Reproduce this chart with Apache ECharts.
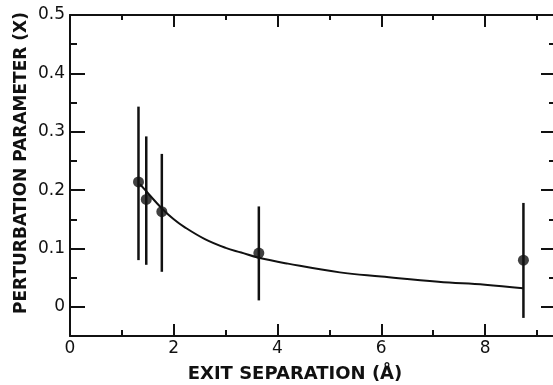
<!DOCTYPE html>
<html>
<head>
<meta charset="utf-8">
<script src="https://cdn.jsdelivr.net/npm/echarts@6/dist/echarts.min.js"></script>
<style>
  html, body { margin: 0; padding: 0; background: #fff; }
  #chart { width: 553px; height: 385px; }
</style>
</head>
<body>
<div id="chart"></div>
<script>
// measured points with error bars
const sepX = [1.32, 1.47, 1.77, 3.64, 8.74]
const paramY = [0.214, 0.184, 0.163, 0.092, 0.080]
const errLow = [0.080, 0.072, 0.060, 0.011, -0.019]
const errHigh = [0.343, 0.292, 0.262, 0.172, 0.178]

// fitted curve
const curveX = [1.35, 1.5, 1.65, 1.8, 2.0, 2.2, 2.6, 3.0, 3.3, 3.64, 4.2, 5.2, 6.0, 7.1, 8.0, 8.73]
const curveY = [0.210, 0.195, 0.180, 0.166, 0.150, 0.137, 0.116, 0.101, 0.093, 0.084, 0.074, 0.059, 0.052, 0.043, 0.038, 0.032]

const xMajor = [0, 2, 4, 6, 8]
const xMinor = [1, 3, 5, 7, 9]
const yMajor = [0, 0.1, 0.2, 0.3, 0.4, 0.5]
const yMinor = [-0.05, 0.05, 0.15, 0.25, 0.35, 0.45]

const FONT = 'DejaVu Sans'
const INK = '#111'

const chart = echarts.init(document.getElementById('chart'))

const lineStyle = { color: INK, width: 2 }

// helper for the frame axes: one with long ticks, one with short ticks
const xAx = (pos, ticks, len, showLine, labels) => ({
  type: 'value', position: pos, min: 0, max: 9.31,
  axisLine: { show: showLine, onZero: false, lineStyle },
  axisTick: { show: true, inside: true, length: len, lineStyle, customValues: ticks },
  axisLabel: labels
    ? { show: true, customValues: ticks, fontFamily: FONT, fontSize: 17, color: INK, margin: 4 }
    : { show: false },
  splitLine: { show: false },
})

const yAx = (pos, ticks, len, showLine, labels) => ({
  type: 'value', position: pos, min: -0.05, max: 0.5,
  axisLine: { show: showLine, onZero: false, lineStyle },
  axisTick: { show: true, inside: true, length: len, lineStyle, customValues: ticks },
  axisLabel: labels
    ? { show: true, customValues: ticks, fontFamily: FONT, fontSize: 17, color: INK, margin: 5,
        formatter: v => (v === 0 ? '0' : v.toFixed(1)) }
    : { show: false },
  splitLine: { show: false },
})

const errData = sepX.map((x, i) => [x, errLow[i], errHigh[i]])

chart.setOption({
  animation: false,
  backgroundColor: '#fff',
  grid: { left: 70, right: 0, top: 15, bottom: 49 },
  xAxis: [
    xAx('bottom', xMajor, 12, true, true),
    xAx('bottom', xMinor, 6, false, false),
    xAx('top', xMajor, 12, true, false),
    xAx('top', xMinor, 5, false, false),
  ],
  yAxis: [
    yAx('left', yMajor, 15, true, true),
    yAx('left', yMinor, 7, false, false),
    // right frame line falls off the picture edge, only its ticks show
    yAx('right', yMajor, 12, false, false),
    yAx('right', yMinor, 4, false, false),
  ],
  graphic: [
    {
      type: 'text', x: 295, y: 374, rotation: 0,
      style: { text: 'EXIT SEPARATION (Å)', font: 'bold 18px "' + FONT + '"', fill: INK,
               align: 'center', verticalAlign: 'middle' },
    },
    {
      type: 'text', x: 22, y: 163, rotation: Math.PI / 2,
      style: { text: 'PERTURBATION PARAMETER (X)', font: 'bold 17px "' + FONT + '"', fill: INK,
               align: 'center', verticalAlign: 'middle' },
    },
  ],
  series: [
    {
      type: 'line',
      data: curveX.map((x, i) => [x, curveY[i]]),
      smooth: 0.4,
      showSymbol: false,
      lineStyle: { color: INK, width: 2 },
    },
    {
      type: 'custom',
      data: errData,
      renderItem: (params, api) => {
        const top = api.coord([api.value(0), api.value(2)])
        const bot = api.coord([api.value(0), api.value(1)])
        return {
          type: 'line',
          shape: { x1: top[0], y1: top[1], x2: bot[0], y2: bot[1] },
          style: { stroke: INK, lineWidth: 2.5 },
        }
      },
      encode: { x: 0, y: [1, 2] },
      z: 3,
    },
    {
      type: 'scatter',
      data: sepX.map((x, i) => [x, paramY[i]]),
      symbol: 'circle',
      symbolSize: 11,
      itemStyle: { color: INK },
      z: 4,
    },
  ],
})
</script>
</body>
</html>
